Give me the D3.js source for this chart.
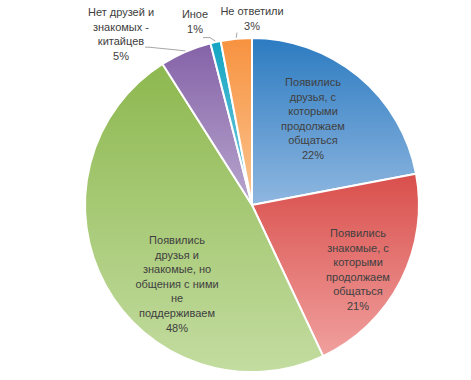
<!DOCTYPE html>
<html>
<head>
<meta charset="utf-8">
<script src="https://cdn.jsdelivr.net/npm/d3@7"></script>
<style>
  html, body { margin: 0; padding: 0; background: #fff; }
  svg { display: block; }
  text { font-family: "Liberation Sans", Arial, sans-serif; font-size: 11px; fill: #404040; }
</style>
</head>
<body>
<div id="chart"></div>
<script>
'use strict';

// data
var categories = [
  'Появились друзья, с которыми продолжаем общаться',
  'Появились знакомые, с которыми продолжаем общаться',
  'Появились друзья и знакомые, но общения с ними не поддерживаем',
  'Нет друзей и знакомых - китайцев',
  'Иное',
  'Не ответили'
];
var values = [22, 21, 48, 5, 1, 3];

// label text broken into lines as in the picture
var labelLines = [
  ['Появились', 'друзья, с', 'которыми', 'продолжаем', 'общаться'],
  ['Появились', 'знакомые, с', 'которыми', 'продолжаем', 'общаться'],
  ['Появились', 'друзья и', 'знакомые, но', 'общения с ними', 'не', 'поддерживаем'],
  ['Нет друзей и', 'знакомых -', 'китайцев'],
  ['Иное'],
  ['Не ответили']
];

// layout / styles
var width = 471, height = 380;
var cx = 252, cy = 205, radius = 167;
var lineH = 14.6;
// top line position of each label block
var labelPos = [
  {x: 313, y: 86, inside: true},
  {x: 358, y: 237, inside: true},
  {x: 177, y: 244, inside: true},
  {x: 121, y: 16, inside: false},
  {x: 195, y: 18, inside: false},
  {x: 252, y: 15, inside: false}
];
var colorsTop = ['#2c7bc1', '#d94f4c', '#8db84f', '#8562a8', '#12a5c2', '#f7923f'];
var colorsBottom = ['#8fb7e0', '#f0a09e', '#c3dca0', '#b7a6cd', '#80cde0', '#fbc592'];

var svg = d3.select('#chart').append('svg')
  .attr('width', width)
  .attr('height', height);

var defs = svg.append('defs');
colorsTop.forEach(function (c, i) {
  var g = defs.append('linearGradient')
    .attr('id', 'grad' + i)
    .attr('x1', 0).attr('y1', 0).attr('x2', 0).attr('y2', 1);
  g.append('stop').attr('offset', '0%').attr('stop-color', c);
  g.append('stop').attr('offset', '100%').attr('stop-color', colorsBottom[i]);
});

var pie = d3.pie().sort(null).value(function (d) { return d; });
var arcs = pie(values);

var arc = d3.arc().innerRadius(0).outerRadius(radius);

var g = svg.append('g').attr('transform', 'translate(' + cx + ',' + cy + ')');

g.selectAll('path.slice')
  .data(arcs)
  .enter()
  .append('path')
  .attr('class', 'slice')
  .attr('d', arc)
  .attr('fill', function (d, i) { return 'url(#grad' + i + ')'; })
  .attr('stroke', '#fff')
  .attr('stroke-width', 2)
  .attr('stroke-linejoin', 'round');

// leader lines for outside labels
arcs.forEach(function (d, i) {
  var p = labelPos[i];
  if (p.inside) return;
  var a = (d.startAngle + d.endAngle) / 2;
  var ex = cx + Math.sin(a) * (radius + 1);
  var ey = cy - Math.cos(a) * (radius + 1);
  var nLines = labelLines[i].length + 1;
  var pts;
  if (i === 3) {
    var ty = p.y + lineH * 2 + 2;
    pts = [[p.x + 24, ty], [p.x + 28, ty], [ex, ey]];
  } else if (i === 4) {
    var ty2 = p.y + lineH + 5;
    pts = [[p.x + 8, ty2], [p.x + 15, ty2], [ex, ey]];
  } else {
    var ty3 = p.y + lineH + 3;
    pts = [[p.x - 15, ty3], [ex, ey]];
  }
  svg.append('path')
    .attr('d', d3.line()(pts))
    .attr('fill', 'none')
    .attr('stroke', '#a6a6a6')
    .attr('stroke-width', 1);
});

// labels
arcs.forEach(function (d, i) {
  var p = labelPos[i];
  var lines = labelLines[i].concat([values[i] + '%']);
  var t = svg.append('text')
    .attr('text-anchor', 'middle')
    .attr('x', p.x)
    .attr('y', p.y);
  lines.forEach(function (s, k) {
    t.append('tspan')
      .attr('x', p.x)
      .attr('dy', k === 0 ? 0 : lineH)
      .text(s);
  });
});
</script>
</body>
</html>
